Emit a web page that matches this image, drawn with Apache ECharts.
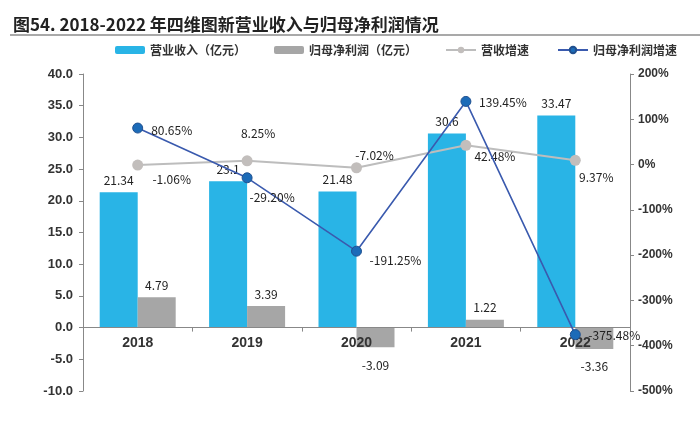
<!DOCTYPE html>
<html><head><meta charset="utf-8">
<script src="https://cdn.jsdelivr.net/npm/echarts@6/dist/echarts.min.js"></script>
<style>html,body{margin:0;padding:0;background:#fff}#c{width:700px;height:431px}</style>
</head><body><div id="c"></div>
<script>
const categories = ['2018', '2019', '2020', '2021', '2022'];
const revenue = [21.34, 23.1, 21.48, 30.6, 33.47];
const netProfit = [4.79, 3.39, -3.09, 1.22, -3.36];
const revenueGrowth = [-1.06, 8.25, -7.02, 42.48, 9.37];
const profitGrowth = [80.65, -29.20, -191.25, 139.45, -375.48];
const seriesNames = ['营业收入（亿元）', '归母净利润（亿元）', '营收增速', '归母净利润增速'];

// label offsets (presentation only)
const revGrowthOffsets = [[34, 14], [11, -27], [18, -12], [29, 11], [21, 17]];
const profGrowthOffsets = [[34, 2], [25, 20], [39, 9], [37, 1], [39, 1]];

const FONT = '"Noto Sans CJK SC", "Liberation Sans", sans-serif';
const chart = echarts.init(document.getElementById('c'), null, {renderer: 'canvas'});

const GRID_TOP = 74, GRID_BOTTOM = 40, H = 431;
const plotH = H - GRID_TOP - GRID_BOTTOM;
const zeroOffset = plotH * (0 - (-10)) / (40 - (-10)); // distance of zero line above grid bottom

function lineData(vals, offs) {
  return vals.map((v, i) => ({
    value: v,
    label: {show: true, position: 'inside', offset: offs[i], formatter: p => p.value.toFixed(2) + '%'}
  }));
}

chart.setOption({
  animation: false,
  textStyle: {fontFamily: FONT},
  title: {
    text: '图54. 2018-2022 年四维图新营业收入与归母净利润情况',
    left: 8, top: 11,
    textStyle: {fontSize: 17, fontWeight: 'bold', color: '#222', fontFamily: FONT}
  },
  graphic: [{
    type: 'line', shape: {x1: 10, y1: 35, x2: 700, y2: 35},
    style: {stroke: '#555', lineWidth: 1.2}
  }],
  legend: {
    top: 39, left: 110,
    itemGap: 28, itemWidth: 30, itemHeight: 8,
    textStyle: {fontSize: 12, color: '#333', fontWeight: 'bold', fontFamily: FONT},
    data: seriesNames
  },
  grid: {left: 83, right: 70, top: GRID_TOP, bottom: GRID_BOTTOM, containLabel: false},
  xAxis: {
    type: 'category', data: categories, position: 'bottom',
    offset: -zeroOffset, z: 6,
    axisLine: {onZero: false, lineStyle: {color: '#888'}},
    axisTick: {show: true, length: 4, lineStyle: {color: '#888'}},
    axisLabel: {fontSize: 14, fontWeight: 'bold', color: '#333', margin: 9, fontFamily: '"Liberation Sans", sans-serif'}
  },
  yAxis: [{
    type: 'value', min: -10, max: 40, interval: 5,
    splitLine: {show: false},
    axisLine: {show: true, lineStyle: {color: '#888'}},
    axisTick: {show: true, length: 4, lineStyle: {color: '#888'}},
    axisLabel: {fontSize: 13, fontWeight: 'bold', color: '#333', margin: 10, fontFamily: '"Liberation Sans", sans-serif',
      formatter: v => v.toFixed(1)}
  }, {
    type: 'value', min: -500, max: 200, interval: 100,
    splitLine: {show: false},
    alignTicks: false,
    axisLine: {show: true, lineStyle: {color: '#888'}},
    axisTick: {show: true, length: 4, lineStyle: {color: '#888'}},
    axisLabel: {fontSize: 12, fontWeight: 'bold', color: '#333', margin: 8, fontFamily: '"Liberation Sans", sans-serif',
      formatter: v => v + '%'}
  }],
  series: [{
    name: seriesNames[0], type: 'bar', data: revenue,
    barWidth: 38, barGap: '0%',
    itemStyle: {color: '#29B4E6'},
    label: {show: true, position: 'top', distance: 6, fontSize: 12, color: '#222'}
  }, {
    name: seriesNames[1], type: 'bar',
    data: netProfit.map(v => v < 0 ? {value: v, label: {position: 'bottom', distance: 12}} : v),
    barWidth: 38, barGap: '0%',
    itemStyle: {color: '#A6A6A6'},
    label: {show: true, position: 'top', distance: 6, fontSize: 12, color: '#222'}
  }, {
    name: seriesNames[2], type: 'line', yAxisIndex: 1,
    data: lineData(revenueGrowth, revGrowthOffsets),
    symbol: 'circle', symbolSize: 11,
    lineStyle: {color: '#BDBDBD', width: 2},
    itemStyle: {color: '#C2BEBC'},
    label: {fontSize: 12, color: '#222'},
    z: 7
  }, {
    name: seriesNames[3], type: 'line', yAxisIndex: 1,
    data: lineData(profitGrowth, profGrowthOffsets),
    symbol: 'circle', symbolSize: 10,
    lineStyle: {color: '#3A5AAE', width: 1.6},
    itemStyle: {color: '#1C6BB8', borderColor: '#20508F', borderWidth: 1},
    label: {fontSize: 12, color: '#222'},
    z: 8
  }]
});
</script>
</body></html>
